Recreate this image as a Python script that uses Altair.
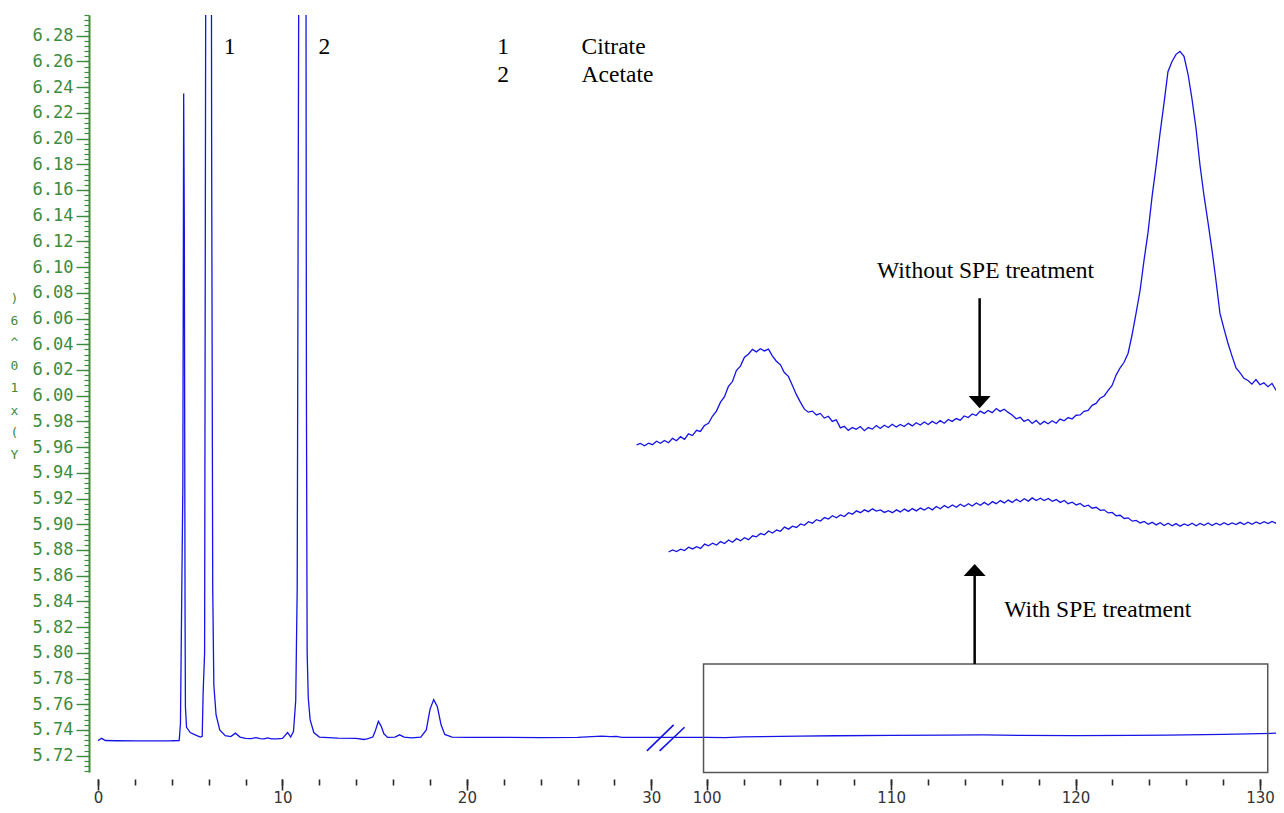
import altair as alt
import pandas as pd

# ---------------- data ----------------
# main chromatogram (time in min, signal x10^6)
MAIN_T = [0.0, 0.2, 0.4, 1.0, 2.0, 3.0, 4.0, 4.40, 4.42, 4.47, 4.60, 4.645, 4.68, 4.72, 4.74, 4.80,
          5.0, 5.3, 5.55, 5.65, 5.70, 5.78, 5.85, 5.88, 6.12, 6.16, 6.22, 6.28, 6.4, 6.6, 6.9, 7.2,
          7.45, 7.7, 8.0, 8.3, 8.56, 8.8, 9.0, 9.2, 9.4, 9.7, 10.0, 10.28, 10.45, 10.6, 10.72, 10.80,
          10.88, 10.93, 11.25, 11.30, 11.34, 11.40, 11.5, 11.7, 12.0, 13.0, 14.0, 14.4, 14.6, 14.9,
          15.05, 15.2, 15.35, 15.5, 15.7, 16.1, 16.35, 16.6, 17.0, 17.5, 17.8, 18.0, 18.2, 18.4,
          18.6, 18.8, 19.2, 20, 22, 24, 26, 27.3, 27.8, 28.1, 28.4, 29, 30, 31.5,
          100, 101, 102, 103, 105, 107, 110, 113, 115, 117, 120, 123, 125, 128, 130, 131]
MAIN_V = [5.7317, 5.7335, 5.7318, 5.7316, 5.7315, 5.7315, 5.7316, 5.7318, 5.7350, 5.7450, 5.9300, 6.2350,
          6.1300, 5.8300, 5.7580, 5.7420, 5.7380, 5.7360, 5.7345, 5.7350, 5.7690, 5.8000, 6.4000, 6.7000,
          6.7000, 6.2000, 5.8500, 5.7750, 5.7520, 5.7400, 5.7355, 5.7348, 5.7375, 5.7345, 5.7335, 5.7332,
          5.7340, 5.7333, 5.7330, 5.7338, 5.7331, 5.7330, 5.7335, 5.7380, 5.7345, 5.7390, 5.7630, 5.8500,
          6.3000, 6.7000, 6.7000, 6.0000, 5.8000, 5.7650, 5.7480, 5.7380, 5.7345, 5.7336, 5.7335, 5.7326,
          5.7330, 5.7345, 5.7400, 5.7467, 5.7430, 5.7370, 5.7342, 5.7345, 5.7362, 5.7345, 5.7338, 5.7345,
          5.7400, 5.7560, 5.7636, 5.7580, 5.7440, 5.7365, 5.7345, 5.7342, 5.7342, 5.7341, 5.7342, 5.7352,
          5.7348, 5.7350, 5.7342, 5.7342, 5.7342, 5.7342,
          5.7342, 5.7340, 5.7346, 5.7348, 5.7352, 5.7355, 5.7358, 5.7360, 5.7362, 5.7358, 5.7356, 5.7358,
          5.7360, 5.7366, 5.7372, 5.7375]

# enlarged trace "Without SPE treatment"
WITHOUT_T = [96.20, 96.41, 96.63, 96.85, 97.06, 97.28, 97.50, 97.71, 97.93, 98.15, 98.36, 98.58, 98.80,
             99.01, 99.23, 99.45, 99.66, 99.88, 100.10, 100.31, 100.53, 100.75, 100.96, 101.18, 101.40,
             101.61, 101.83, 102.05, 102.26, 102.48, 102.70, 102.91, 103.13, 103.35, 103.56, 103.78,
             104.00, 104.21, 104.43, 104.65, 104.86, 105.08, 105.30, 105.51, 105.73, 105.95, 106.16,
             106.38, 106.60, 106.81, 107.03, 107.25, 107.46, 107.68, 107.90, 108.11, 108.33, 108.55,
             108.76, 108.98, 109.20, 109.41, 109.63, 109.85, 110.06, 110.28, 110.50, 110.71, 110.93,
             111.15, 111.36, 111.58, 111.80, 112.01, 112.23, 112.45, 112.66, 112.88, 113.10, 113.31,
             113.53, 113.75, 113.96, 114.18, 114.40, 114.61, 114.83, 115.05, 115.26, 115.48, 115.70,
             115.91, 116.13, 116.35, 116.56, 116.78, 117.00, 117.21, 117.43, 117.65, 117.86, 118.08,
             118.30, 118.51, 118.73, 118.95, 119.16, 119.38, 119.60, 119.81, 120.03, 120.25, 120.46,
             120.68, 120.90, 121.11, 121.33, 121.55, 121.76, 121.98, 122.20, 122.41, 122.63, 122.85,
             123.06, 123.28, 123.50, 123.71, 123.93, 124.15, 124.36, 124.58, 124.80, 125.01, 125.23,
             125.45, 125.66, 125.88, 126.10, 126.31, 126.53, 126.75, 126.96, 127.18, 127.40, 127.61,
             127.83, 128.05, 128.26, 128.48, 128.70, 128.91, 129.13, 129.35, 129.56, 129.78, 130.00,
             130.21, 130.43, 130.65, 130.86, 131.08]
WITHOUT_V = [5.9617, 5.9628, 5.9611, 5.9630, 5.9619, 5.9646, 5.9630, 5.9652, 5.9634, 5.9668, 5.9650,
             5.9681, 5.9660, 5.9703, 5.9690, 5.9731, 5.9722, 5.9768, 5.9785, 5.9840, 5.9880, 5.9950,
             5.9990, 6.0072, 6.0110, 6.0196, 6.0230, 6.0300, 6.0322, 6.0360, 6.0341, 6.0365, 6.0348,
             6.0362, 6.0310, 6.0268, 6.0240, 6.0180, 6.0150, 6.0080, 6.0010, 5.9950, 5.9895, 5.9872,
             5.9880, 5.9850, 5.9862, 5.9826, 5.9840, 5.9800, 5.9812, 5.9750, 5.9762, 5.9730, 5.9752,
             5.9738, 5.9760, 5.9728, 5.9752, 5.9740, 5.9768, 5.9745, 5.9770, 5.9752, 5.9778, 5.9756,
             5.9776, 5.9760, 5.9785, 5.9765, 5.9790, 5.9772, 5.9795, 5.9776, 5.9800, 5.9782, 5.9806,
             5.9786, 5.9815, 5.9800, 5.9822, 5.9810, 5.9842, 5.9830, 5.9858, 5.9846, 5.9880, 5.9862,
             5.9885, 5.9868, 5.9900, 5.9878, 5.9895, 5.9870, 5.9850, 5.9820, 5.9832, 5.9800, 5.9815,
             5.9784, 5.9808, 5.9776, 5.9800, 5.9782, 5.9805, 5.9786, 5.9818, 5.9805, 5.9830, 5.9818,
             5.9848, 5.9850, 5.9878, 5.9885, 5.9925, 5.9940, 5.9980, 5.9998, 6.0040, 6.0080, 6.0160,
             6.0215, 6.0260, 6.0330, 6.0470, 6.0640, 6.0820, 6.1050, 6.1270, 6.1550, 6.1780, 6.2040,
             6.2280, 6.2520, 6.2600, 6.2655, 6.2678, 6.2640, 6.2500, 6.2310, 6.2080, 6.1790, 6.1560,
             6.1350, 6.1130, 6.0900, 6.0640, 6.0520, 6.0410, 6.0310, 6.0215, 6.0180, 6.0135, 6.0118,
             6.0090, 6.0125, 6.0085, 6.0100, 6.0070, 6.0095, 6.0045, 6.0060]

# enlarged trace "With SPE treatment"
WITH_T = [97.94, 98.15, 98.37, 98.59, 98.80, 99.02, 99.24, 99.45, 99.67, 99.89, 100.10, 100.32, 100.54,
          100.75, 100.97, 101.19, 101.40, 101.62, 101.84, 102.05, 102.27, 102.49, 102.70, 102.92,
          103.14, 103.35, 103.57, 103.79, 104.00, 104.22, 104.44, 104.65, 104.87, 105.09, 105.30,
          105.52, 105.74, 105.95, 106.17, 106.39, 106.60, 106.82, 107.04, 107.25, 107.47, 107.69,
          107.90, 108.12, 108.34, 108.55, 108.77, 108.99, 109.20, 109.42, 109.64, 109.85, 110.07,
          110.29, 110.50, 110.72, 110.94, 111.15, 111.37, 111.59, 111.80, 112.02, 112.24, 112.45,
          112.67, 112.89, 113.10, 113.32, 113.54, 113.75, 113.97, 114.19, 114.40, 114.62, 114.84,
          115.05, 115.27, 115.49, 115.70, 115.92, 116.14, 116.35, 116.57, 116.79, 117.00, 117.22,
          117.44, 117.65, 117.87, 118.09, 118.30, 118.52, 118.74, 118.95, 119.17, 119.39, 119.60,
          119.82, 120.04, 120.25, 120.47, 120.69, 120.90, 121.12, 121.34, 121.55, 121.77, 121.99,
          122.20, 122.42, 122.64, 122.85, 123.07, 123.29, 123.50, 123.72, 123.94, 124.15, 124.37,
          124.59, 124.80, 125.02, 125.24, 125.45, 125.67, 125.89, 126.10, 126.32, 126.54, 126.75,
          126.97, 127.19, 127.40, 127.62, 127.84, 128.05, 128.27, 128.49, 128.70, 128.92, 129.14,
          129.35, 129.57, 129.79, 130.00, 130.22, 130.44, 130.65, 130.87, 131.09]
WITH_V = [5.8784, 5.8800, 5.8788, 5.8806, 5.8795, 5.8822, 5.8808, 5.8825, 5.8812, 5.8846, 5.8832,
          5.8852, 5.8838, 5.8865, 5.8850, 5.8878, 5.8860, 5.8888, 5.8872, 5.8895, 5.8880, 5.8910,
          5.8902, 5.8928, 5.8918, 5.8948, 5.8932, 5.8955, 5.8945, 5.8978, 5.8962, 5.8985, 5.8975,
          5.9002, 5.8992, 5.9020, 5.9008, 5.9036, 5.9025, 5.9052, 5.9040, 5.9066, 5.9050, 5.9072,
          5.9060, 5.9090, 5.9078, 5.9104, 5.9090, 5.9112, 5.9098, 5.9120, 5.9102, 5.9112, 5.9092,
          5.9106, 5.9090, 5.9112, 5.9096, 5.9118, 5.9100, 5.9122, 5.9104, 5.9126, 5.9110, 5.9130,
          5.9112, 5.9138, 5.9120, 5.9145, 5.9128, 5.9150, 5.9132, 5.9156, 5.9138, 5.9160, 5.9142,
          5.9165, 5.9148, 5.9170, 5.9150, 5.9176, 5.9160, 5.9184, 5.9166, 5.9188, 5.9170, 5.9194,
          5.9175, 5.9198, 5.9180, 5.9205, 5.9185, 5.9202, 5.9184, 5.9200, 5.9178, 5.9192, 5.9170,
          5.9185, 5.9160, 5.9172, 5.9150, 5.9162, 5.9138, 5.9148, 5.9125, 5.9132, 5.9108, 5.9112,
          5.9088, 5.9092, 5.9066, 5.9070, 5.9045, 5.9050, 5.9024, 5.9030, 5.9010, 5.9022, 5.9000,
          5.9015, 5.8995, 5.9012, 5.8990, 5.9008, 5.8988, 5.9005, 5.8985, 5.9003, 5.8990, 5.9008,
          5.8988, 5.9006, 5.8992, 5.9010, 5.8990, 5.9008, 5.8994, 5.9012, 5.8995, 5.9010, 5.8998,
          5.9015, 5.8998, 5.9016, 5.9000, 5.9018, 5.9004, 5.9020, 5.9005, 5.9022, 5.9008, 5.9020]

# axis ticks
X_MAJOR = [0, 10, 20, 30, 100, 110, 120, 130]
X_MINOR = list(range(0, 31, 2)) + list(range(100, 131, 2))
Y_MAJOR = [round(5.72 + 0.02 * i, 2) for i in range(29)]
Y_MINOR = [round(5.708 + 0.004 * i, 3) for i in range(148)]
Y_TITLE_LINES = [")", "6", "^", "0", "1", "x", "(", " ", "Y"]

# annotations (in axis units)
NUM_LABELS = ["1", "2", "1", "2"]
NUM_T = [7.14, 12.28, 21.96, 21.96]
NUM_V = [6.2712, 6.2712, 6.2712, 6.2494]
WORD_LABELS = ["Citrate", "Acetate", "Without SPE treatment", "With SPE treatment"]
WORD_T = [26.22, 26.22, 109.24, 116.13]
WORD_V = [6.2712, 6.2494, 6.097, 5.8333]

ARROW_T = [114.80, 114.53]
ARROW_V1 = [6.0758, 5.7913]
ARROW_V2 = [5.9950, 5.8644]
ARROW_DIR = ["down", "up"]

BOX_T = [99.83]
BOX_T2 = [130.42]
BOX_V = [5.7913]
BOX_V2 = [5.7070]

BREAK_T = [29.76, 30.45]
BREAK_T2 = [31.21, 31.80]
BREAK_V = [5.7237, 5.7237]
BREAK_V2 = [5.7439, 5.7421]

# ---------------- chart ----------------
SHIFT = 67  # broken axis: 100 is drawn 3 units after 30
GREEN = "#3d8b3d"
BLUE = "#1414e6"
TICK = "#2a2a2a"
SERIF = "Liberation Serif"
TEXT_SIZE = 23.5


def xp(f):
    return f"datum.{f} > 50 ? datum.{f} - {SHIFT} : datum.{f}"


def shift(vals):
    return [v - SHIFT if v > 50 else v for v in vals]


XSCALE = alt.Scale(domain=[-0.488, 63.868], nice=False, zero=False)
YSCALE = alt.Scale(domain=[5.7073, 6.2961], nice=False, zero=False)

X_MAJ_AXIS = alt.Axis(
    orient="bottom", values=shift(X_MAJOR), title=None, grid=False, domain=False, offset=7,
    tickColor=TICK, tickWidth=1.6, tickSize=11,
    labelExpr=f"format(datum.value > 31 ? datum.value + {SHIFT} : datum.value, 'd')",
    labelFont="DejaVu Sans", labelFontSize=15, labelColor="#333333",
    labelPadding=0, labelOverlap=False, labelFlush=False,
)
X_MIN_AXIS = alt.Axis(
    orient="bottom", values=shift(X_MINOR), title=None, grid=False, domain=False, offset=7,
    tickColor=TICK, tickWidth=1.6, tickSize=6, labels=False,
)
Y_MAJ_AXIS = alt.Axis(
    orient="left", values=Y_MAJOR, grid=False, domainColor=GREEN, domainWidth=2,
    tickColor=GREEN, tickWidth=1.4, tickSize=13,
    labelExpr="format(datum.value, '.2f')",
    labelFont="DejaVu Sans Mono", labelFontSize=17, labelColor=GREEN,
    labelPadding=3, labelOverlap=False, labelFlush=False,
    title=Y_TITLE_LINES, titleAngle=0, titleX=-75, titleY=283,
    titleAlign="center", titleBaseline="middle", titleFont="DejaVu Sans Mono",
    titleFontSize=13, titleFontWeight="normal", titleColor=GREEN, titleLineHeight=22.4,
)
Y_MIN_AXIS = alt.Axis(
    orient="left", values=Y_MINOR, grid=False, domain=False, title=None,
    tickColor=GREEN, tickWidth=1.2, tickSize=5, labels=False,
)

traces = pd.DataFrame({
    "t": MAIN_T + WITHOUT_T + WITH_T,
    "v": MAIN_V + WITHOUT_V + WITH_V,
    "s": ["main"] * len(MAIN_T) + ["without"] * len(WITHOUT_T) + ["with"] * len(WITH_T),
})

lines = alt.Chart(traces).transform_calculate(xp=xp("t")).mark_line(
    color=BLUE, strokeWidth=1.3, clip=True
).encode(
    x=alt.X("xp:Q", scale=XSCALE, axis=X_MAJ_AXIS),
    y=alt.Y("v:Q", scale=YSCALE, axis=Y_MAJ_AXIS),
    detail="s:N",
)

box = alt.Chart(pd.DataFrame({"t": BOX_T, "t2": BOX_T2, "v": BOX_V, "v2": BOX_V2})).transform_calculate(
    xp=xp("t"), xp2=xp("t2")
).mark_rect(fill="transparent", stroke="#555555", strokeWidth=1.5).encode(
    x=alt.X("xp:Q", scale=XSCALE, axis=X_MIN_AXIS), x2="xp2:Q",
    y=alt.Y("v:Q", scale=YSCALE, axis=Y_MIN_AXIS), y2="v2:Q",
)


def X(field):
    return alt.X(field, scale=XSCALE, axis=None)


def Y(field):
    return alt.Y(field, scale=YSCALE, axis=None)


breaks = alt.Chart(pd.DataFrame({"t": BREAK_T, "t2": BREAK_T2, "v": BREAK_V, "v2": BREAK_V2})).transform_calculate(
    xp=xp("t"), xp2=xp("t2")
).mark_rule(color=BLUE, strokeWidth=1.6).encode(
    x=X("xp:Q"), x2="xp2:Q", y=Y("v:Q"), y2="v2:Q",
)

arrows_df = pd.DataFrame({"t": ARROW_T, "v": ARROW_V1, "v2": ARROW_V2, "d": ARROW_DIR})
shafts = alt.Chart(arrows_df).transform_calculate(xp=xp("t")).mark_rule(
    color="black", strokeWidth=2.5
).encode(x=X("xp:Q"), y=Y("v:Q"), y2="v2:Q")

head_down = alt.Chart(arrows_df).transform_filter("datum.d == 'down'").transform_calculate(
    xp=xp("t")
).mark_point(shape="M-1,-0.55L1,-0.55L0,0.55Z", filled=True, color="black", size=484, opacity=1,
             strokeWidth=0).encode(x=X("xp:Q"), y=Y("v2:Q"))
head_up = alt.Chart(arrows_df).transform_filter("datum.d == 'up'").transform_calculate(
    xp=xp("t")
).mark_point(shape="M-1,0.55L1,0.55L0,-0.55Z", filled=True, color="black", size=484, opacity=1,
             strokeWidth=0).encode(x=X("xp:Q"), y=Y("v2:Q"))

nums = alt.Chart(pd.DataFrame({"t": NUM_T, "v": NUM_V, "label": NUM_LABELS})).transform_calculate(
    xp=xp("t")
).mark_text(font=SERIF, fontSize=TEXT_SIZE, color="black", align="center", baseline="middle").encode(
    x=X("xp:Q"), y=Y("v:Q"), text="label:N",
)
words = alt.Chart(pd.DataFrame({"t": WORD_T, "v": WORD_V, "label": WORD_LABELS})).transform_calculate(
    xp=xp("t")
).mark_text(font=SERIF, fontSize=TEXT_SIZE, color="black", align="left", baseline="middle").encode(
    x=X("xp:Q"), y=Y("v:Q"), text="label:N",
)

chart = alt.layer(lines, box, breaks, shafts, head_down, head_up, nums, words).resolve_axis(
    x="independent", y="independent"
).properties(
    width=1187, height=757,
    autosize=alt.AutoSizeParams(type="none"),
    padding={"left": 81, "top": 7, "right": 0, "bottom": 33},
    background="white",
).configure_view(stroke=None)

chart.save("out.html", embed_options={"renderer": "svg", "actions": False})
